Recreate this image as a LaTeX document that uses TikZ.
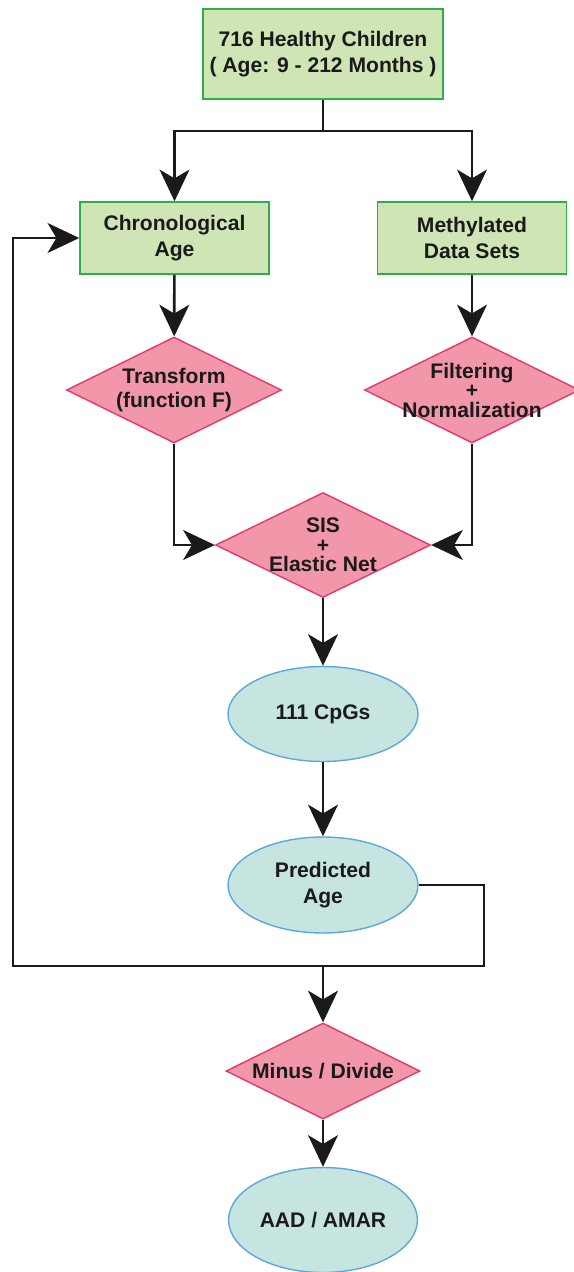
\documentclass[tikz,border=0pt]{standalone}
\usepackage{fontspec}
\setmainfont{Liberation Sans}
\usepackage{tikz}
\usetikzlibrary{shapes.geometric,arrows.meta}
\definecolor{boxgreen}{HTML}{D0E5B5}
\definecolor{boxedge}{HTML}{2DAE4B}
\definecolor{diafill}{HTML}{F297A9}
\definecolor{diaedge}{HTML}{E5386C}
\definecolor{ellfill}{HTML}{C6E4E0}
\definecolor{elledge}{HTML}{5DA8DA}
\definecolor{inkblack}{HTML}{1A1A1A}

\begin{document}
\begin{tikzpicture}[x=0.02cm,y=0.02cm,
        every node/.style={font=\fontsize{12}{14.7}\selectfont\bfseries,text=inkblack,align=center},
        greenbox/.style={draw=boxedge,fill=boxgreen,line width=0.9pt,minimum width=3.78cm,minimum height=1.44cm},
        pinkdia/.style={diamond,draw=diaedge,fill=diafill,line width=0.8pt,inner sep=0pt,minimum width=4.3cm,minimum height=2.12cm},
        blueell/.style={ellipse,draw=elledge,fill=ellfill,line width=0.8pt,inner sep=2pt,minimum width=3.8cm,minimum height=1.9cm},
        wire/.style={line width=1.5pt,draw=inkblack},
        flow/.style={wire,-{Stealth[length=18pt,width=17pt,inset=5pt]}}]
        \useasboundingbox[fill=white] (0,0) rectangle (574,-1272);
        \node[greenbox,minimum width=4.8cm,minimum height=1.8cm] (children) at (323,-54) {716 Healthy Children\\( Age: 9 - 212 Months )};
        \node[greenbox] (chrono) at (174.5,-238) {Chronological\\Age};
        \node[greenbox] (methyl) at (472,-238) {Methylated\\Data Sets};
        \node[pinkdia,label=center:{Transform\\[-1.5pt](function F)}] (transf) at (174,-390) {};
        \node[pinkdia,label=center:{Filtering\\[-3.6pt]+\\[-3.6pt]Normalization}] (filter) at (472,-390) {};
        \node[pinkdia,minimum height=2.1cm,label=center:{SIS\\[-3.6pt]+\\[-3.6pt]Elastic Net}] (sis) at (323,-545) {};
        \node[blueell] (cpgs) at (323,-714) {111 CpGs};
        \node[blueell,minimum height=1.92cm] (predage) at (323,-885) {Predicted\\Age};
        \node[pinkdia,minimum width=3.88cm,minimum height=1.92cm,label=center:{Minus / Divide}] (minus) at (323,-1071) {};
        \node[blueell,minimum width=3.62cm,minimum height=2.1cm] (aad) at (323,-1220) {AAD / AMAR};
        \coordinate (split) at (323,-131);
        \coordinate (loopright) at (484,-966);
        \coordinate (loopleft) at (13,-966);
        \coordinate (merge) at (323,-966);
        \draw[wire] (children) -- (split);
        \draw[flow] (split) -| (chrono);
        \draw[flow] (split) -| (methyl);
        \draw[flow] (chrono) -- (transf);
        \draw[flow] (methyl) -- (filter);
        \draw[flow] (transf) |- (sis);
        \draw[flow] (filter) |- (sis);
        \draw[flow] (sis) -- (cpgs);
        \draw[flow] (cpgs) -- (predage);
        \draw[flow] (predage.east) -| (loopright) -- (loopleft) |- (chrono.west);
        \draw[flow] (merge) -- (minus);
        \draw[flow] (minus) -- (aad);
\end{tikzpicture}
\end{document}
